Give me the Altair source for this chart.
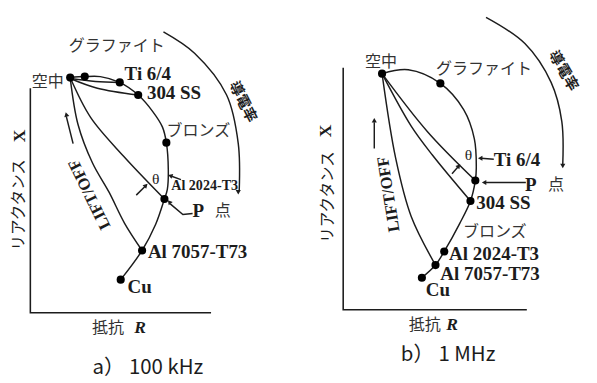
import altair as alt
import pandas as pd

INK = "#1c1c1c"

# ------------------------------------------------------------------
# Panel a) 100 kHz  -- impedance plane, units = px from the R/X origin
# ------------------------------------------------------------------
A_DOT_R = [41, 56, 92, 111, 140, 138, 115, 93]
A_DOT_X = [242, 243, 237, 224, 175, 117, 64, 34]

A_LOCUS_R = [41, 56, 72, 92, 111, 126, 136, 140, 142, 141, 138, 129, 115, 93]
A_LOCUS_X = [242, 243, 243, 237, 224, 207, 191, 175, 147, 127, 117, 91, 64, 34]
A_TI_R = [41, 67, 92]
A_TI_X = [241, 238, 237]
A_SS_R = [41, 69, 111]
A_SS_X = [241, 231, 224]
A_PLIFT_R = [41, 62, 96, 138]
A_PLIFT_X = [242, 201, 161, 117]
A_ALLIFT_R = [41, 49, 64, 81, 97, 115]
A_ALLIFT_X = [242, 194, 154, 124, 92, 64]
A_COND_R = [137, 169, 202, 214, 215]
A_COND_X = [289, 267, 224, 174, 126]
A_AXIS_R = [0, 0, 186]
A_AXIS_X = [231, 0, 0]
# short straight leaders
A_LEAD = [
    ([109, 119], [121, 131]),   # theta arrow left
    ([155, 144], [137, 141]),   # theta arrow right
    ([167, 157, 144], [102, 101, 112]),  # P point leader
    ([44, 37], [174, 202]),     # lift-off arrow
]
A_HEAD_R = [119, 144, 143, 37, 214]
A_HEAD_X = [131, 141, 114, 204, 124]
A_HEAD_ANG = [45, 290, 320, 346, 180]

A_SERIF_T = ["Ti 6/4", "304 SS", "Al 7057-T73", "Cu", "P"]
A_SERIF_R = [97, 120, 121, 100, 167]
A_SERIF_X = [246, 226, 62, 26, 105]
A_SMALL_T = ["Al 2024-T3"]
A_SMALL_R = [145]
A_SMALL_X = [130]
A_CJK_T = ["グラファイト", "空中", "ブロンズ", "点", "抵抗"]
A_CJK_R = [89, 18, 173, 198, 80]
A_CJK_X = [274, 237, 187, 105, -16]

# ------------------------------------------------------------------
# Panel b) 1 MHz
# ------------------------------------------------------------------
B_DOT_R = [40, 100, 136, 131, 104, 95, 81]
B_DOT_X = [243, 233, 133, 112, 60, 46, 33]

B_LOCUS_R = [40, 67, 100, 124, 135, 137, 136, 131, 120, 104, 95, 81]
B_LOCUS_X = [243, 247, 233, 206, 176, 146, 133, 112, 89, 60, 46, 33]
B_PLIFT_R = [40, 87, 136]
B_PLIFT_X = [243, 183, 133]
B_SSLIFT_R = [40, 70, 92, 131]
B_SSLIFT_X = [243, 189, 159, 112]
B_ALLIFT_R = [40, 54, 70, 95]
B_ALLIFT_X = [243, 156, 96, 46]
B_COND_R = [147, 187, 214, 225, 226]
B_COND_X = [301, 274, 234, 194, 150]
B_AXIS_R = [0, 0, 189]
B_AXIS_X = [249, 0, 0]
B_LEAD = [
    ([112, 119], [140, 148]),   # theta arrow
    ([155, 142], [155, 156]),   # Ti 6/4 arrow
    ([188, 147], [131, 131]),   # P point arrow
    ([32, 32], [166, 193]),     # lift-off arrow
]
B_HEAD_R = [119, 141, 145, 32, 226]
B_HEAD_X = [148, 156, 131, 195, 148]
B_HEAD_ANG = [40, 270, 270, 0, 180]

B_SERIF_T = ["Ti 6/4", "304 SS", "Al 2024-T3", "Al 7057-T73", "Cu", "P"]
B_SERIF_R = [155, 137, 109, 100, 85, 187]
B_SERIF_X = [154, 110, 57, 37, 20, 128]
B_SMALL_T = []
B_SMALL_R = []
B_SMALL_X = []
B_CJK_T = ["グラファイト", "空中", "ブロンズ", "点", "抵抗"]
B_CJK_R = [145, 39, 156, 219, 84]
B_CJK_X = [248, 255, 80, 128, -16]


def curves_df(named):
    rows = []
    for cid, (rs, xs) in named.items():
        for i, (r, x) in enumerate(zip(rs, xs)):
            rows.append({"c": cid, "o": i, "R": r, "X": x})
    return pd.DataFrame(rows)


def panel(cfg):
    xs = alt.Scale(domain=cfg["xdom"], nice=False, zero=False)
    ys = alt.Scale(domain=cfg["ydom"], nice=False, zero=False)
    ex = alt.X("R:Q", scale=xs, axis=None)
    ey = alt.Y("X:Q", scale=ys, axis=None)

    smooth = alt.Chart(curves_df(cfg["smooth"])).mark_line(
        interpolate="catmull-rom", color=INK, strokeWidth=1.5
    ).encode(x=ex, y=ey, detail="c:N", order="o:Q")

    straight = alt.Chart(curves_df(cfg["straight"])).mark_line(
        color=INK, strokeWidth=1.5
    ).encode(x=ex, y=ey, detail="c:N", order="o:Q")

    dots = alt.Chart(pd.DataFrame({"R": cfg["dot_r"], "X": cfg["dot_x"]})).mark_circle(
        color="#000", opacity=1, size=70
    ).encode(x=ex, y=ey)

    heads = alt.Chart(pd.DataFrame({"R": cfg["head_r"], "X": cfg["head_x"], "a": cfg["head_a"]})).mark_point(
        shape="triangle-up", filled=True, color=INK, opacity=1, size=28
    ).encode(x=ex, y=ey, angle=alt.Angle("a:Q", scale=None))

    serif = alt.Chart(pd.DataFrame({"t": cfg["serif_t"], "R": cfg["serif_r"], "X": cfg["serif_x"]})).mark_text(
        font="Liberation Serif", fontWeight="bold", fontSize=19.5, align="left", baseline="middle", color=INK
    ).encode(x=ex, y=ey, text="t:N")

    layers = [cfg["axis"](ex, ey), smooth, straight, dots, heads, serif]

    if cfg["small_t"]:
        small = alt.Chart(pd.DataFrame({"t": cfg["small_t"], "R": cfg["small_r"], "X": cfg["small_x"]})).mark_text(
            font="Liberation Serif", fontWeight="bold", fontSize=14.5, align="left", baseline="middle", color=INK
        ).encode(x=ex, y=ey, text="t:N")
        layers.append(small)

    cjk = alt.Chart(pd.DataFrame({"t": cfg["cjk_t"], "R": cfg["cjk_r"], "X": cfg["cjk_x"]})).mark_text(
        font="Noto Sans CJK JP", fontSize=16.5, align="center", baseline="middle", color="#333"
    ).encode(x=ex, y=ey, text="t:N")
    layers.append(cjk)

    # rotated / special texts
    for (t, r, x, ang, font, size, weight, style) in cfg["misc"]:
        props = dict(font=font, fontSize=size, align="center", baseline="middle",
                     color=INK, angle=ang, fontWeight=weight)
        if style:
            props["fontStyle"] = style
        layers.append(
            alt.Chart(pd.DataFrame({"t": [t], "R": [r], "X": [x]})).mark_text(**props)
            .encode(x=ex, y=ey, text="t:N")
        )

    return alt.layer(*layers).properties(width=cfg["w"], height=cfg["h"])


def axis_layer(rs, xs):
    def f(ex, ey):
        return alt.Chart(pd.DataFrame({"R": rs, "X": xs, "o": list(range(len(rs)))})).mark_line(
            color=INK, strokeWidth=1.6
        ).encode(x=ex, y=ey, order="o:Q")
    return f


CJK = "Noto Sans CJK JP"
SERIF = "Liberation Serif"

cfg_a = dict(
    xdom=[-23, 269], ydom=[-61, 306], w=292, h=367,
    smooth={"locus": (A_LOCUS_R, A_LOCUS_X), "ti": (A_TI_R, A_TI_X), "ss": (A_SS_R, A_SS_X),
            "pl": (A_PLIFT_R, A_PLIFT_X), "al": (A_ALLIFT_R, A_ALLIFT_X), "cond": (A_COND_R, A_COND_X)},
    straight={f"l{i}": v for i, v in enumerate(A_LEAD)},
    axis=axis_layer(A_AXIS_R, A_AXIS_X),
    dot_r=A_DOT_R, dot_x=A_DOT_X,
    head_r=A_HEAD_R, head_x=A_HEAD_X, head_a=A_HEAD_ANG,
    serif_t=A_SERIF_T, serif_r=A_SERIF_R, serif_x=A_SERIF_X,
    small_t=A_SMALL_T, small_r=A_SMALL_R, small_x=A_SMALL_X,
    cjk_t=A_CJK_T, cjk_r=A_CJK_R, cjk_x=A_CJK_X,
    misc=[
        ("θ", 129, 137, 0, SERIF, 16, "normal", None),
        ("導電率", 219, 217, 63, CJK, 15, "bold", None),
        ("LIFT/OFF", 61, 122, 244, SERIF, 17, "bold", None),
        ("リアクタンス", -12, 111, 270, CJK, 16, "normal", None),
        ("X", -11, 182, 270, SERIF, 18, "bold", None),
        ("R", 113, -16, 0, SERIF, 18, "bold", "italic"),
        ("a） 100 kHz", 121, -57, 0, CJK, 21, "normal", None),
    ],
)

cfg_b = dict(
    xdom=[-53, 236], ydom=[-64, 303], w=289, h=367,
    smooth={"locus": (B_LOCUS_R, B_LOCUS_X), "pl": (B_PLIFT_R, B_PLIFT_X), "ss": (B_SSLIFT_R, B_SSLIFT_X),
            "al": (B_ALLIFT_R, B_ALLIFT_X), "cond": (B_COND_R, B_COND_X)},
    straight={f"l{i}": v for i, v in enumerate(B_LEAD)},
    axis=axis_layer(B_AXIS_R, B_AXIS_X),
    dot_r=B_DOT_R, dot_x=B_DOT_X,
    head_r=B_HEAD_R, head_x=B_HEAD_X, head_a=B_HEAD_ANG,
    serif_t=B_SERIF_T, serif_r=B_SERIF_R, serif_x=B_SERIF_X,
    small_t=B_SMALL_T, small_r=B_SMALL_R, small_x=B_SMALL_X,
    cjk_t=B_CJK_T, cjk_r=B_CJK_R, cjk_x=B_CJK_X,
    misc=[
        ("θ", 129, 159, 0, SERIF, 16, "normal", None),
        ("導電率", 227, 246, 60, CJK, 15, "bold", None),
        ("LIFT/OFF", 47, 119, 261, SERIF, 17, "bold", None),
        ("リアクタンス", -16, 116, 270, CJK, 16, "normal", None),
        ("X", -18, 184, 270, SERIF, 18, "bold", None),
        ("R", 112, -16, 0, SERIF, 18, "bold", "italic"),
        ("b）  1  MHz", 108, -47, 0, CJK, 21, "normal", None),
    ],
)

chart = alt.hconcat(panel(cfg_a), panel(cfg_b), spacing=0, bounds="flush").resolve_scale(
    x="independent", y="independent"
).properties(
    padding={"left": 0, "top": 0, "right": 8, "bottom": 8},
    background="white",
).configure_view(stroke=None)

chart.save("out.html", embed_options={"renderer": "svg", "actions": False})
